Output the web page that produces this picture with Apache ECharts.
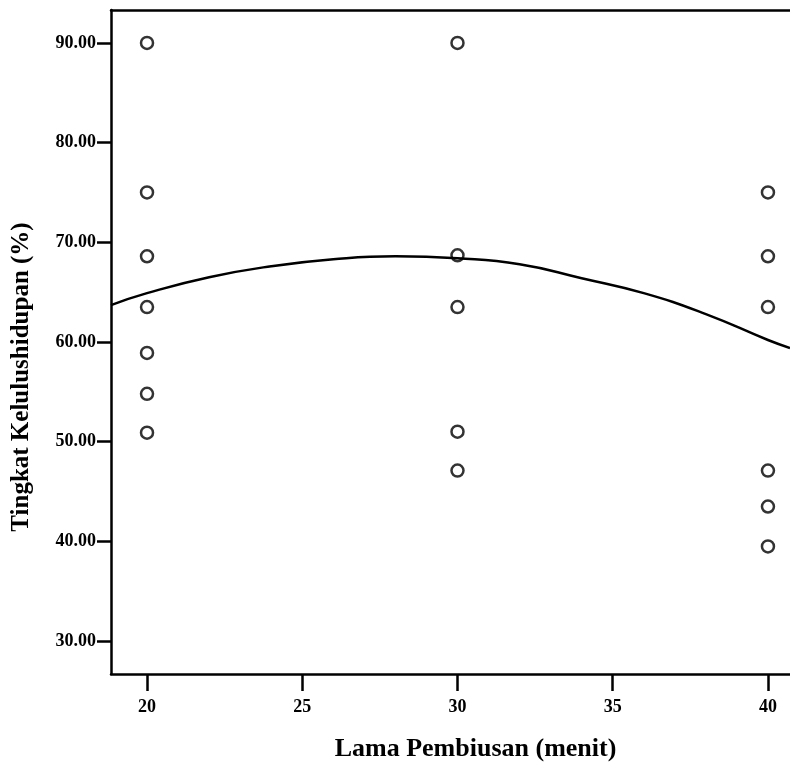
<!DOCTYPE html>
<html>
<head>
<meta charset="utf-8">
<script src="https://cdn.jsdelivr.net/npm/echarts@6/dist/echarts.min.js"></script>
<style>
  html, body { margin: 0; padding: 0; background: #fff; }
  #main { width: 790px; height: 762px; }
</style>
</head>
<body>
<div id="main"></div>
<script>
// data
var xTicks = [20, 25, 30, 35, 40];
var yTicks = [30, 40, 50, 60, 70, 80, 90];

var survival20 = [90, 75, 68.6, 63.5, 58.9, 54.8, 50.9];
var survival30 = [90, 68.7, 63.5, 51, 47.1];
var survival40 = [75, 68.6, 63.5, 47.1, 43.5, 39.5];

// quadratic fit line
var fitX = [18.84, 20, 22, 24, 26, 28, 30, 32, 34, 36, 38, 40, 40.71];
var fitY = [63.7, 64.9, 66.5, 67.6, 68.3, 68.6, 68.4, 67.8, 66.4, 64.9, 62.8, 60.2, 59.4];

var points = [];
survival20.forEach(function (v) { points.push([20, v]); });
survival30.forEach(function (v) { points.push([30, v]); });
survival40.forEach(function (v) { points.push([40, v]); });

var fitLine = fitX.map(function (x, i) { return [x, fitY[i]]; });

var font = 'Liberation Serif';
var myChart = echarts.init(document.getElementById('main'));

var option = {
    backgroundColor: '#fff',
    animation: false,
    grid: { left: 111, top: 10, right: 0, bottom: 88, outerBoundsMode: 'none', containLabel: false },
    xAxis: [
        {
            type: 'value',
            min: 18.84,
            max: 40.71,
            name: 'Lama Pembiusan (menit)',
            nameLocation: 'middle',
            nameGap: 62,
            nameTextStyle: {
                fontFamily: font, fontWeight: 'bold', fontSize: 26,
                color: '#000', padding: [0, 0, 0, 50]
            },
            axisLine: { show: true, onZero: false, lineStyle: { color: '#000', width: 2.5 } },
            axisTick: { show: true, length: 17, customValues: xTicks, lineStyle: { color: '#000', width: 2.5 } },
            axisLabel: {
                customValues: xTicks,
                margin: 24,
                fontFamily: font, fontWeight: 'bold', fontSize: 18, color: '#000'
            },
            splitLine: { show: false }
        },
        {
            // top frame line only
            type: 'value',
            position: 'top',
            min: 18.84,
            max: 40.71,
            axisLine: { show: true, onZero: false, lineStyle: { color: '#000', width: 2.5 } },
            axisTick: { show: false },
            axisLabel: { show: false },
            splitLine: { show: false }
        }
    ],
    yAxis: {
        type: 'value',
        min: 26.7,
        max: 93.3,
        name: 'Tingkat Kelulushidupan (%)',
        nameLocation: 'middle',
        nameGap: 77,
        nameTextStyle: {
            fontFamily: font, fontWeight: 'bold', fontSize: 25,
            color: '#000', padding: [0, 70, 0, 0]
        },
        axisLine: { show: true, onZero: false, lineStyle: { color: '#000', width: 2.5 } },
        axisTick: { show: true, length: 14, customValues: yTicks, lineStyle: { color: '#000', width: 2.5 } },
        axisLabel: {
            customValues: yTicks,
            margin: 15,
            formatter: function (v) { return v.toFixed(2); },
            fontFamily: font, fontWeight: 'bold', fontSize: 18, color: '#000'
        },
        splitLine: { show: false }
    },
    series: [
        {
            name: 'Fit',
            type: 'line',
            data: fitLine,
            smooth: true,
            showSymbol: false,
            lineStyle: { color: '#000', width: 2.5 }
        },
        {
            name: 'Observed',
            type: 'scatter',
            data: points,
            symbol: 'circle',
            symbolSize: 12,
            itemStyle: { color: '#fff', borderColor: '#000', borderWidth: 2.5 }
        }
    ]
};

myChart.setOption(option);
</script>
</body>
</html>
